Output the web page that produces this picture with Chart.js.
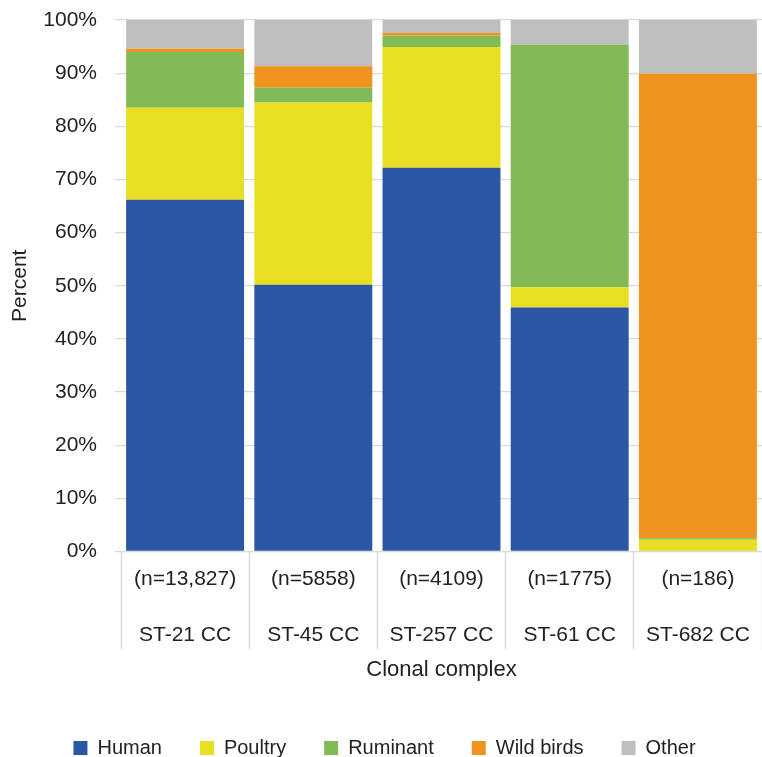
<!DOCTYPE html>
<html>
<head>
<meta charset="utf-8">
<script src="https://cdn.jsdelivr.net/npm/chart.js@4/dist/chart.umd.min.js"></script>
<style>
  html, body { margin: 0; padding: 0; background: #fff; overflow: hidden; }
  #wrap { width: 762px; height: 757px; position: relative; }
</style>
</head>
<body>
<div id="wrap"><canvas id="chart"></canvas></div>
<script>
// Source attribution of isolates by clonal complex (percent of isolates)
const sampleSizes = ['(n=13,827)', '(n=5858)', '(n=4109)', '(n=1775)', '(n=186)'];
const clonalComplexes = ['ST-21 CC', 'ST-45 CC', 'ST-257 CC', 'ST-61 CC', 'ST-682 CC'];

const human     = [66.2, 50.2, 72.2, 45.9, 0.0];
const poultry   = [17.3, 34.3, 22.7, 3.8, 2.2];
const ruminant  = [10.5, 2.8, 2.2, 45.6, 0.3];
const wildBirds = [0.6, 4.0, 0.5, 0.0, 87.4];
const other     = [5.4, 8.7, 2.4, 4.7, 10.1];

const yTicks = [0, 10, 20, 30, 40, 50, 60, 70, 80, 90, 100];

const FONT = 'Liberation Sans, Arial, sans-serif';
const TEXT = '#222222';
const GRID = '#d9d9d9';

// two-line category labels: sample size above, clonal complex below
const labels = clonalComplexes.map((cc, i) => [sampleSizes[i], cc]);

const series = [
  { label: 'Human',      data: human,     color: '#2b56a3' },
  { label: 'Poultry',    data: poultry,   color: '#e8de22' },
  { label: 'Ruminant',   data: ruminant,  color: '#82bb56' },
  { label: 'Wild birds', data: wildBirds, color: '#ef921e' },
  { label: 'Other',      data: other,     color: '#bfbfbf' }
];

const X_TICK_LEN = 98;
const Y_AXIS_WIDTH = 114;

new Chart(document.getElementById('chart'), {
  type: 'bar',
  data: {
    labels,
    datasets: series.map(s => ({
      label: s.label,
      data: s.data,
      backgroundColor: s.color,
      borderWidth: 0,
      barPercentage: 0.92,
      categoryPercentage: 1.0
    }))
  },
  options: {
    responsive: true,
    maintainAspectRatio: false,
    animation: false,
    layout: { padding: { top: 20, left: 7, right: 0, bottom: -11 } },
    plugins: {
      tooltip: { enabled: false },
      legend: {
        position: 'bottom',
        labels: {
          font: { family: FONT, size: 20 },
          color: TEXT,
          boxWidth: 14,
          boxHeight: 14,
          padding: 38
        }
      }
    },
    scales: {
      x: {
        stacked: true,
        grid: {
          offset: true,
          drawOnChartArea: false,
          color: GRID,
          tickLength: X_TICK_LEN,
          tickWidth: 1.5
        },
        border: { display: false },
        ticks: {
          font: { family: FONT, size: 21, lineHeight: 2.67 },
          color: TEXT,
          // labels sit inside the long category divider marks
          padding: -X_TICK_LEN,
          maxRotation: 0,
          autoSkip: false
        },
        title: {
          display: true,
          text: 'Clonal complex',
          font: { family: FONT, size: 22 },
          color: TEXT,
          padding: { top: 91, bottom: 17 }
        }
      },
      y: {
        stacked: true,
        min: 0,
        max: 100,
        afterBuildTicks: axis => { axis.ticks = yTicks.map(v => ({ value: v })); },
        afterFit: axis => {
          axis.width = Y_AXIS_WIDTH;
          axis.paddingTop = 0;
          axis.paddingBottom = 0;
        },
        grid: { color: GRID, tickLength: 6, lineWidth: 1.2 },
        border: { display: false },
        ticks: {
          font: { family: FONT, size: 21 },
          color: TEXT,
          padding: 18,
          callback: v => v + '%'
        },
        title: {
          display: true,
          text: 'Percent',
          font: { family: FONT, size: 21 },
          color: TEXT,
          padding: { top: 1, bottom: 0 }
        }
      }
    }
  }
});
</script>
</body>
</html>
